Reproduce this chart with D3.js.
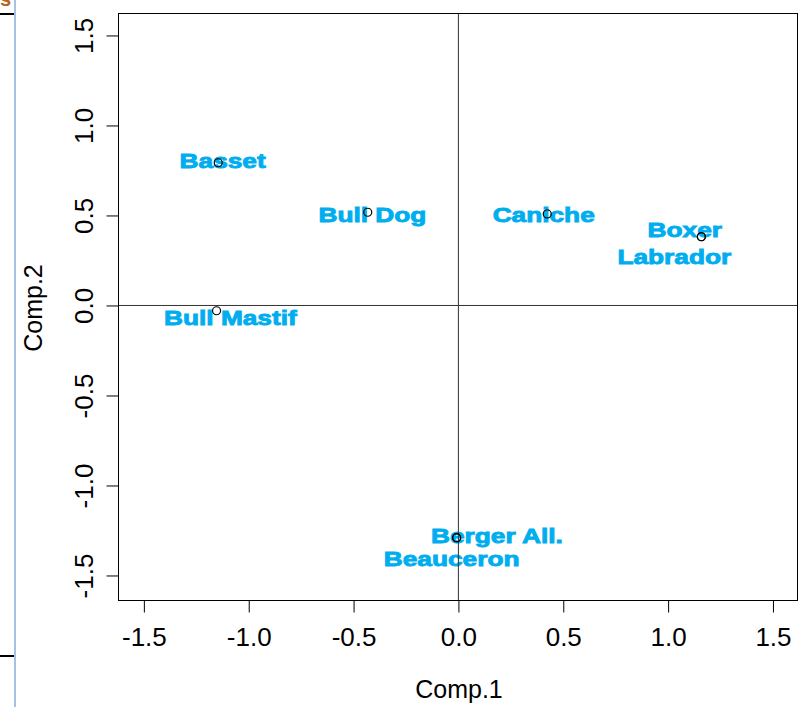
<!DOCTYPE html>
<meta charset='utf-8'>
<style>
  body { margin:0; background:#fff; }
  text { font-family:'Liberation Sans', Arial, sans-serif; }
  .lab { font-weight:bold; fill:#00aeef; stroke:#00aeef; stroke-width:0.9px; font-size:21px; }
  .tick text { font-size:26px; fill:#000; }
</style>
<body>
  <script src='https://d3js.org/d3.v7.min.js' charset='utf-8'></script>
  <script>

    var width = 807;
    var height = 707;

    // dogs on the first two components
    var dogs = ['Basset', 'Bull Dog', 'Caniche', 'Boxer', 'Labrador', 'Bull Mastif', 'Berger All.', 'Beauceron'];
    var comp1 = [-1.143, -0.43, 0.426, 1.161, 1.161, -1.151, -0.006, -0.006];
    var comp2 = [0.79, 0.515, 0.506, 0.379, 0.379, -0.032, -1.293, -1.293];
    // where the labels ended up (jittered off the points)
    var labelX = [-1.122, -0.408, 0.409, 1.082, 1.032, -1.085, 0.186, -0.030];
    var labelY = [0.801, 0.502, 0.503, 0.422, 0.272, -0.069, -1.283, -1.411];
    var ticks = [-1.5, -1.0, -0.5, 0.0, 0.5, 1.0, 1.5];

    var box = {left:118, right:797, top:13, bottom:600};

    var svg = d3.select('body').append('svg')
      .attr('width', width)
      .attr('height', height);

    var x = d3.scaleLinear().domain([-1.621, 1.617]).range([box.left, box.right]);
    var y = d3.scaleLinear().domain([-1.639, 1.622]).range([box.bottom, box.top]);

    // bits of the page around the plot
    svg.append('rect').attr('x', 14).attr('y', 0).attr('width', 2).attr('height', height).attr('fill', '#a3c2e4');
    svg.append('rect').attr('x', 0).attr('y', 13).attr('width', 14).attr('height', 2).attr('fill', '#000');
    svg.append('rect').attr('x', 0).attr('y', 655).attr('width', 14).attr('height', 2).attr('fill', '#000');
    svg.append('text').attr('x', 0).attr('y', 6).attr('font-size', 20).attr('font-weight', 'bold').attr('fill', '#b5651d').text('s');

    // labels first, the lines and points go over them
    dogs.forEach(function(d, i) {
      svg.append('text')
        .attr('class', 'lab')
        .attr('transform', 'translate(' + x(labelX[i]) + ',' + (y(labelY[i]) + 7.5) + ') scale(1.25,1)')
        .attr('text-anchor', 'middle')
        .text(d);
    });

    svg.append('line')
      .attr('x1', x(0) + 0.5).attr('x2', x(0) + 0.5)
      .attr('y1', box.top).attr('y2', box.bottom)
      .attr('stroke', '#333');
    svg.append('line')
      .attr('x1', box.left).attr('x2', box.right)
      .attr('y1', y(0) + 0.5).attr('y2', y(0) + 0.5)
      .attr('stroke', '#333');

    svg.selectAll('circle.pt')
      .data(dogs)
      .enter().append('circle')
      .attr('class', 'pt')
      .attr('cx', (d, i) => x(comp1[i]))
      .attr('cy', (d, i) => y(comp2[i]))
      .attr('r', 4)
      .attr('fill', 'none')
      .attr('stroke', '#000')
      .attr('stroke-width', 1.2);

    svg.append('rect')
      .attr('x', box.left + 0.5).attr('y', box.top + 0.5)
      .attr('width', box.right - box.left).attr('height', box.bottom - box.top)
      .attr('fill', 'none')
      .attr('stroke', '#000');

    var xAxis = svg.append('g')
      .attr('transform', 'translate(0.5,' + (box.bottom + 0.5) + ')')
      .call(d3.axisBottom(x).tickValues(ticks).tickFormat(d3.format('.1f')).tickSize(12).tickPadding(15));
    xAxis.select('.domain').remove();

    var yAxis = svg.append('g')
      .attr('transform', 'translate(' + (box.left + 0.5) + ',0.5)')
      .call(d3.axisLeft(y).tickValues(ticks).tickFormat(d3.format('.1f')).tickSize(12));
    yAxis.select('.domain').remove();
    yAxis.selectAll('text')
      .attr('transform', 'rotate(-90)')
      .attr('x', 0)
      .attr('y', -26)
      .attr('dy', 0)
      .attr('text-anchor', 'middle');

    svg.selectAll('.tick line').attr('stroke', '#000');
    svg.selectAll('.tick text').text(d => d3.format('.1f')(d).replace('−', '-'));

    svg.append('text')
      .attr('x', 459).attr('y', 698)
      .attr('text-anchor', 'middle')
      .attr('font-size', 25)
      .text('Comp.1');
    svg.append('text')
      .attr('transform', 'translate(42,308) rotate(-90)')
      .attr('text-anchor', 'middle')
      .attr('font-size', 25)
      .text('Comp.2');
  </script>
</body>
